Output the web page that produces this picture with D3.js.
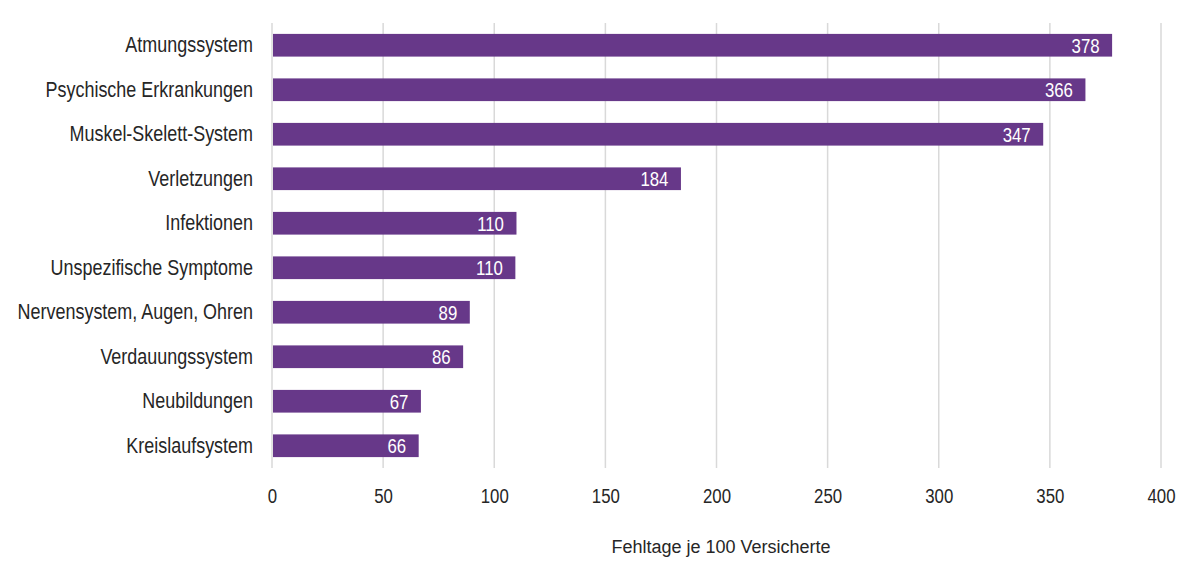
<!DOCTYPE html>
<html>
<head>
<meta charset="utf-8">
<script src="https://cdn.jsdelivr.net/npm/d3@7"></script>
<style>
  body { margin: 0; background: #fff; }
  text { font-family: "Liberation Sans", Arial, sans-serif; }
</style>
</head>
<body>
<div id="chart"></div>
<script>
var categories = [
  "Atmungssystem",
  "Psychische Erkrankungen",
  "Muskel-Skelett-System",
  "Verletzungen",
  "Infektionen",
  "Unspezifische Symptome",
  "Nervensystem, Augen, Ohren",
  "Verdauungssystem",
  "Neubildungen",
  "Kreislaufsystem"
];
var values = [378, 366, 347, 184, 110, 109.5, 89, 86, 67, 66];
var labels = ["378", "366", "347", "184", "110", "110", "89", "86", "67", "66"];
var ticks = [0, 50, 100, 150, 200, 250, 300, 350, 400];
var axisTitle = "Fehltage je 100 Versicherte";

function barChart() {
  var width = 1200;
  var height = 567;
  var left = 272, right = 1161, top = 23, bottom = 468;
  // no narrow font installed: squeeze Liberation Sans horizontally
  var catScale = 0.835, numScale = 0.82;

  var svg = d3.select('#chart')
    .append('svg')
    .attr('width', width)
    .attr('height', height);

  var x = d3.scaleLinear().domain([0, 400]).range([left, right]);
  var y = d3.scaleBand().domain(categories).range([top, bottom]).paddingInner(0.49).paddingOuter(0.245);

  // gridlines
  svg.append('g')
    .selectAll('line')
    .data(ticks)
    .enter()
    .append('line')
    .attr('x1', function(d) { return x(d); })
    .attr('x2', function(d) { return x(d); })
    .attr('y1', top)
    .attr('y2', bottom)
    .attr('stroke', '#d9d9d9')
    .attr('stroke-width', 1.5);

  // x axis tick labels
  var xAxis = d3.axisBottom(x).tickValues(ticks).tickSize(0).tickPadding(0);
  var gx = svg.append('g')
    .attr('transform', 'translate(0,' + bottom + ')')
    .call(xAxis);
  gx.select('.domain').remove();
  gx.selectAll('text')
    .attr('y', 35)
    .attr('dy', null)
    .attr('font-size', 20.5)
    .attr('font-family', null)
    .attr('fill', '#262626')
    .attr('transform', 'scale(' + numScale + ',1)');

  // y axis category labels
  var yAxis = d3.axisLeft(y).tickSize(0).tickPadding(0);
  var gy = svg.append('g')
    .attr('transform', 'translate(' + left + ',0)')
    .call(yAxis);
  gy.select('.domain').remove();
  gy.selectAll('text')
    .attr('x', -19 / catScale)
    .attr('font-size', 21.5)
    .attr('font-family', null)
    .attr('fill', '#262626')
    .attr('transform', 'scale(' + catScale + ',1)');

  // bars
  svg.append('g')
    .selectAll('rect')
    .data(values)
    .enter()
    .append('rect')
    .attr('x', x(0) + 1)
    .attr('y', function(d, i) { return y(categories[i]); })
    .attr('width', function(d) { return x(d) - x(0) - 1; })
    .attr('height', y.bandwidth())
    .attr('fill', '#673889');

  // value labels
  svg.append('g')
    .selectAll('text')
    .data(values)
    .enter()
    .append('text')
    .attr('x', function(d) { return (x(d) - 12.5) / numScale; })
    .attr('y', function(d, i) { return y(categories[i]) + y.bandwidth() / 2; })
    .attr('dy', '0.36em')
    .attr('text-anchor', 'end')
    .attr('font-size', 20.5)
    .attr('fill', '#ffffff')
    .attr('transform', 'scale(' + numScale + ',1)')
    .text(function(d, i) { return labels[i]; });

  // axis title
  svg.append('text')
    .attr('x', 721)
    .attr('y', 553)
    .attr('text-anchor', 'middle')
    .attr('font-size', 18)
    .attr('fill', '#262626')
    .text(axisTitle);
}

barChart();
</script>
</body>
</html>
